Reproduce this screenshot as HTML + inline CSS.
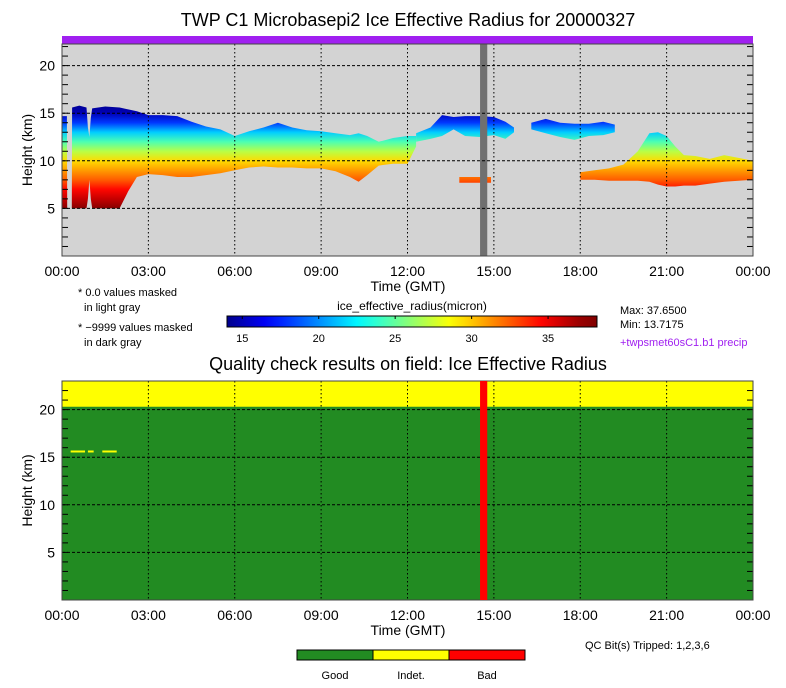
<!DOCTYPE html>
<html><head><meta charset="utf-8"><style>
html,body{margin:0;padding:0;background:#fff;}
svg{display:block;font-family:"Liberation Sans",sans-serif;}
</style></head><body>
<svg id="chart" width="786" height="688" viewBox="0 0 786 688" xmlns="http://www.w3.org/2000/svg">
<defs>
<linearGradient id="heightGrad" gradientUnits="userSpaceOnUse" x1="0" y1="0" x2="0" y2="1"></linearGradient>
<linearGradient id="cbarGrad" x1="0" y1="0" x2="1" y2="0"></linearGradient>
</defs>
<text x="408" y="26" font-size="18" text-anchor="middle">TWP C1 Microbasepi2 Ice Effective Radius for 20000327</text>
<text x="408" y="370" font-size="18" text-anchor="middle">Quality check results on field: Ice Effective Radius</text>
<g id="topPlot"></g>
<g id="botPlot"></g>
<g font-size="11">
<text x="78" y="296">* 0.0 values masked</text><text x="84" y="311">in light gray</text>
<text x="78" y="331">* −9999 values masked</text><text x="84" y="346">in dark gray</text>
</g>
<text x="412" y="310" font-size="12" text-anchor="middle">ice_effective_radius(micron)</text>
<g id="cbar"></g>
<text x="620" y="314" font-size="11">Max: 37.6500</text>
<text x="620" y="328" font-size="11">Min: 13.7175</text>
<text x="620" y="346" font-size="11" fill="#a020f0">+twpsmet60sC1.b1 precip</text>
<text x="585" y="649" font-size="11">QC Bit(s) Tripped: 1,2,3,6</text>
<g id="qcleg"></g>
</svg>
<script>
// ---- data ----
const xTickLabels = ["00:00","03:00","06:00","09:00","12:00","15:00","18:00","21:00","00:00"];
const yTickLabels = [5,10,15,20];
// radius profile vs height (km -> micron)
const profileHeights = [5,6,7,8,9,10,11,12,13,14,15,16];
const profileRadius = [37.5,36,34.5,32.5,31,29.5,27,24.5,21.5,18,15,14];
// cloud layers: times (h), top heights (km), base heights (km)
const l1Times = [0,0.17,0.18,0.34,0.35,0.6,0.85,0.9,0.95,1.0,1.05,1.5,2.0,2.3,2.6,3.0,3.5,4.0,4.5,5.0,5.5,6.0,6.5,7.0,7.5,8.0,8.5,9.0,9.5,10.0,10.3,10.6,11.0,11.5,12.0,12.3];
const l1Tops  = [14.7,14.7,5,5,15.6,15.8,15.6,13.5,12.5,14.5,15.5,15.7,15.6,15.4,15.2,14.8,14.8,14.7,14.1,13.6,13.3,12.6,13.1,13.5,14.0,13.5,13.2,13.1,12.9,12.7,12.9,12.6,12.0,12.4,12.6,12.6];
const l1Bases = [5,5,5,5,5,5,5,6,8,6,5,5,5,6.8,8.3,8.6,8.5,8.3,8.3,8.5,8.7,9.0,9.3,9.4,9.3,9.3,9.2,9.2,8.9,8.3,7.8,8.5,9.5,9.7,9.7,11.5];
const l2Times = [12.3,12.8,13.2,13.6,14.0,14.5,15.0,15.4,15.7];
const l2Tops  = [12.9,13.5,14.8,14.6,14.7,14.7,14.6,14.1,13.5];
const l2Bases = [12.0,12.3,12.6,13.3,12.6,12.5,12.7,12.3,13.0];
const l3Times = [16.3,16.8,17.3,17.8,18.3,18.8,19.2];
const l3Tops  = [14.0,14.4,14.0,13.9,13.9,14.1,13.8];
const l3Bases = [13.3,12.9,12.5,12.2,12.6,12.7,13.0];
const l4Times = [13.8,14.9];
const l4Tops  = [8.3,8.3];
const l4Bases = [7.7,7.7];
const l5Times = [18.0,18.5,19.0,19.5,20.0,20.4,20.7,21.0,21.3,21.6,22.0,22.5,23.0,23.5,24.0];
const l5Tops  = [8.8,9.0,9.2,9.6,11.0,12.9,13.0,12.6,11.5,10.6,10.5,10.2,10.6,10.3,10.0];
const l5Bases = [8.0,8.0,7.9,7.9,7.9,7.8,7.5,7.3,7.3,7.4,7.4,7.6,7.8,7.9,8.0];
const missingStart = 14.52, missingEnd = 14.77;
const qcIndetTop = 20.3;
const qcSpecksTimes = [0.3,0.9,1.4];
const qcSpecksEnds = [0.8,1.1,1.9];
const qcSpeckHeight = 15.6;
const cbarTicks = [15,20,25,30,35];
const cbarMin = 14.0, cbarMax = 38.2;
const qcCategories = ["Good","Indet.","Bad"];
const qcColors = ["#228b22","#ffff00","#ff0000"];
// ---- helpers ----
const NS="http://www.w3.org/2000/svg";
function mk(tag,attrs,parent){const e=document.createElementNS(NS,tag);for(const k in attrs)e.setAttribute(k,attrs[k]);parent.appendChild(e);return e;}
function jet(v){let t=(v-13.7)/(37.65-13.7);t=Math.max(0,Math.min(1,t));
 const r=Math.max(0,Math.min(1,1.5-Math.abs(4*t-3))),g=Math.max(0,Math.min(1,1.5-Math.abs(4*t-2))),b=Math.max(0,Math.min(1,1.5-Math.abs(4*t-1)));
 return `rgb(${Math.round(r*255)},${Math.round(g*255)},${Math.round(b*255)})`;}
const X0=62,X1=753;
const xs=t=>X0+t/24*(X1-X0);
function makeY(bottom){return h=>bottom-h*9.52;}
const yTop=makeY(256), yBot=makeY(600);
const hg=document.getElementById('heightGrad');
hg.setAttribute('y1',yTop(16));hg.setAttribute('y2',yTop(5));
for(let i=profileHeights.length-1;i>=0;i--){
 mk('stop',{offset:((16-profileHeights[i])/11).toFixed(3),'stop-color':jet(profileRadius[i])},hg);}

function axes(g,y,ptop,pbottom){
 for(let h=1;h<=22;h++){mk('line',{x1:X0,x2:X0+6,y1:y(h),y2:y(h),stroke:'#000','stroke-width':1},g);mk('line',{x1:X1-6,x2:X1,y1:y(h),y2:y(h),stroke:'#000','stroke-width':1},g);}
 yTickLabels.forEach(v=>{mk('line',{x1:X0,x2:X1,y1:y(v),y2:y(v),stroke:'#000','stroke-width':1,'stroke-dasharray':'3,2'},g);
  const t=mk('text',{x:X0-7,y:y(v)+5,'font-size':14,'text-anchor':'end'},g);t.textContent=v;
  });
 xTickLabels.forEach((s,i)=>{const x=xs(i*3);
  if(i>0&&i<8)mk('line',{x1:x,x2:x,y1:ptop,y2:pbottom,stroke:'#000','stroke-width':1,'stroke-dasharray':'1.5,2.5'},g);
  const t=mk('text',{x:x,y:pbottom+20,'font-size':14,'text-anchor':'middle'},g);t.textContent=s;
  });
 mk('rect',{x:X0,y:ptop,width:X1-X0,height:pbottom-ptop,fill:'none',stroke:'#444','stroke-width':1},g);
 const xt=mk('text',{x:408,y:pbottom+35,'font-size':14,'text-anchor':'middle'},g);xt.textContent='Time (GMT)';
 
 const yt=mk('text',{x:0,y:0,'font-size':14,'text-anchor':'middle',transform:`translate(32,${(ptop+pbottom)/2}) rotate(-90)`},g);yt.textContent='Height (km)';
 
}
// ---- top plot ----
const topG=document.getElementById('topPlot');
mk('rect',{x:X0,y:44,width:X1-X0,height:212,fill:'#d3d3d3'},topG);
const clouds=mk('g',{},topG);


function layer(times,tops,bases){
 const pts=[];
 for(let i=0;i<times.length;i++)pts.push(xs(times[i]).toFixed(1)+','+yTop(tops[i]).toFixed(1));
 for(let i=times.length-1;i>=0;i--)pts.push(xs(times[i]).toFixed(1)+','+yTop(bases[i]).toFixed(1));
 const p=mk('polygon',{points:pts.join(' '),fill:'url(#heightGrad)'},clouds);
 
 
}
layer(l1Times,l1Tops,l1Bases);layer(l2Times,l2Tops,l2Bases);layer(l3Times,l3Tops,l3Bases);layer(l4Times,l4Tops,l4Bases);layer(l5Times,l5Tops,l5Bases);
const mb=mk('rect',{x:xs(missingStart),y:44,width:xs(missingEnd)-xs(missingStart),height:212,fill:'#707070'},topG);


const pb=mk('rect',{x:X0,y:36,width:X1-X0,height:8,fill:'#a020f0'},topG);


axes(topG,yTop,44,256);
// ---- bottom plot ----
const botG=document.getElementById('botPlot');
mk('rect',{x:X0,y:381,width:X1-X0,height:219,fill:'#228b22'},botG);
const yi=mk('rect',{x:X0,y:381,width:X1-X0,height:yBot(qcIndetTop)-381,fill:'#ffff00'},botG);


qcSpecksTimes.forEach((t,i)=>{const s=mk('rect',{x:xs(t),y:yBot(qcSpeckHeight)-1,width:xs(qcSpecksEnds[i])-xs(t),height:2,fill:'#ffff00'},botG);
 
 });
axes(botG,yBot,381,600);
const rb=mk('rect',{x:xs(missingStart),y:381,width:xs(missingEnd)-xs(missingStart),height:219,fill:'#ff0000'},botG);


// ---- colorbar ----
const cg=document.getElementById('cbarGrad');
for(let i=0;i<=20;i++){const v=cbarMin+(cbarMax-cbarMin)*i/20;mk('stop',{offset:i/20,'stop-color':jet(v)},cg);}
const cb=document.getElementById('cbar');
const cx=v=>227+(v-cbarMin)/(cbarMax-cbarMin)*370;
mk('rect',{x:227,y:316,width:370,height:11,fill:'url(#cbarGrad)',stroke:'#000','stroke-width':1},cb);
cbarTicks.forEach(v=>{mk('line',{x1:cx(v),x2:cx(v),y1:316,y2:319,stroke:'#000'},cb);
 const t=mk('text',{x:cx(v),y:342,'font-size':11,'text-anchor':'middle'},cb);t.textContent=v;
 
 });
// ---- qc legend ----
const ql=document.getElementById('qcleg');
qcCategories.forEach((c,i)=>{const x=297+i*76;
 const r=mk('rect',{x:x,y:650,width:76,height:10,fill:qcColors[i],stroke:'#000','stroke-width':1},ql);
 
 
 const t=mk('text',{x:x+38,y:679,'font-size':11,'text-anchor':'middle'},ql);t.textContent=c;
 
 });
</script>
</body></html>
